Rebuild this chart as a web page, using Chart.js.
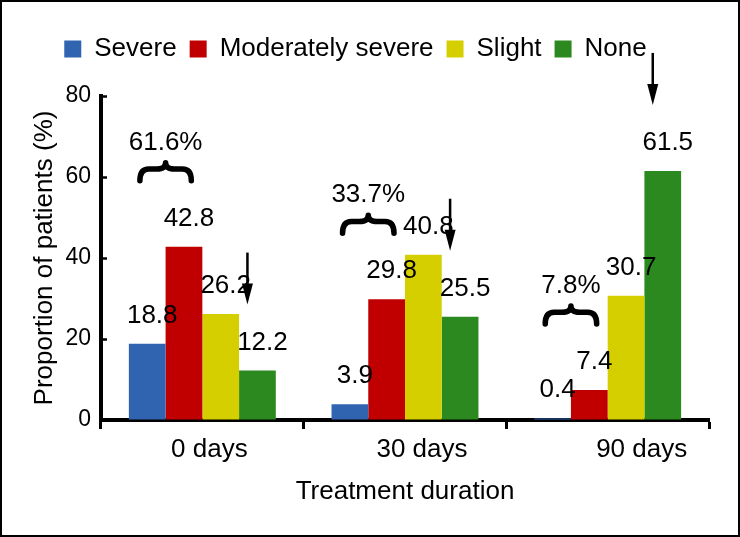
<!DOCTYPE html>
<html>
<head>
<meta charset="utf-8">
<script src="https://cdn.jsdelivr.net/npm/chart.js@4.4.1/dist/chart.umd.min.js"></script>
<style>
  html, body { margin: 0; padding: 0; background: #fff; }
  #frame { width: 740px; height: 537px; box-sizing: border-box; border: 2px solid #000; }
  canvas { display: block; }
</style>
</head>
<body>
<div id="frame"><canvas id="chart" width="736" height="533"></canvas></div>
<script>
// Daten (Anteil der Patienten in %)
const durations = ["0 days", "30 days", "90 days"];
const severe = [18.8, 3.9, 0.4];
const moderatelySevere = [42.8, 29.8, 7.4];
const slight = [26.2, 40.8, 30.7];
const none = [12.2, 25.5, 61.5];
// Summe Severe + Moderately severe, als Klammer-Beschriftung
const combinedLabels = ["61.6%", "33.7%", "7.8%"];

const FONT = '"Liberation Sans", Arial, Helvetica, sans-serif';
Chart.defaults.font.family = FONT;
Chart.defaults.color = "#000";

// die x-Beschriftungen sitzen im Original etwas rechts von der Mitte
const labelShift = [7, 17, 34];

function drawBrace(ctx, l, r, t, b) {
  const c = (l + r) / 2;
  const m = t + (b - t) * 0.35;
  const q = 9;
  ctx.beginPath();
  ctx.moveTo(l, b);
  ctx.quadraticCurveTo(l, m, l + q, m);
  ctx.lineTo(c - q, m);
  ctx.quadraticCurveTo(c, m, c, t);
  ctx.quadraticCurveTo(c, m, c + q, m);
  ctx.lineTo(r - q, m);
  ctx.quadraticCurveTo(r, m, r, b);
  ctx.lineWidth = 5.5;
  ctx.lineCap = "round";
  ctx.lineJoin = "round";
  ctx.stroke();
}

function drawArrow(ctx, x, y0, y1) {
  ctx.lineWidth = 2.5;
  ctx.lineCap = "butt";
  ctx.beginPath();
  ctx.moveTo(x, y0);
  ctx.lineTo(x, y1 - 16);
  ctx.stroke();
  ctx.beginPath();
  ctx.moveTo(x - 5.5, y1 - 21);
  ctx.lineTo(x + 5.5, y1 - 21);
  ctx.lineTo(x, y1);
  ctx.closePath();
  ctx.fill();
}

// Abstand zwischen Legende und Plotbereich
const legendGap = {
  id: "legendGap",
  beforeInit(chart) {
    const fit = chart.legend.fit;
    chart.legend.fit = function () {
      fit.call(this);
      this.height += 24;
    };
  },
};

const annotations = {
  id: "annotations",
  afterDatasetsDraw(chart) {
    const ctx = chart.ctx;
    const xScale = chart.scales.x;
    ctx.save();
    ctx.fillStyle = "#000";
    ctx.strokeStyle = "#000";
    ctx.font = "26px " + FONT;
    ctx.textAlign = "center";
    ctx.textBaseline = "alphabetic";

    // Werte über den Balken
    chart.data.datasets.forEach((ds, i) => {
      chart.getDatasetMeta(i).data.forEach((bar, j) => {
        ctx.fillText(String(ds.data[j]), bar.x + 5, bar.y - 21);
      });
    });

    // Kategorien
    durations.forEach((d, j) => {
      ctx.fillText(d, xScale.getPixelForValue(j) + labelShift[j], xScale.top + 37);
    });

    // Klammern über Severe + Moderately severe
    const m0 = chart.getDatasetMeta(0).data;
    const m1 = chart.getDatasetMeta(1).data;
    m0.forEach((b0, j) => {
      const b1 = m1[j];
      const left = b0.x - b0.width / 2 + 11;
      const right = b1.x + b1.width / 2 - 11;
      const bottom = Math.min(b0.y, b1.y) - 66;
      const top = bottom - 18;
      drawBrace(ctx, left, right, top, bottom);
      ctx.fillText(combinedLabels[j], (left + right) / 2, top - 13);
    });

    // Pfeile auf "None"
    chart.getDatasetMeta(3).data.forEach((bar) => {
      drawArrow(ctx, bar.x - 10, bar.y - 118, bar.y - 66);
    });
    ctx.restore();
  },
};

new Chart(document.getElementById("chart"), {
  type: "bar",
  data: {
    labels: durations,
    datasets: [
      { label: "Severe", data: severe, backgroundColor: "#3063b0" },
      { label: "Moderately severe", data: moderatelySevere, backgroundColor: "#c00000" },
      { label: "Slight", data: slight, backgroundColor: "#d6cf00" },
      { label: "None", data: none, backgroundColor: "#2b891f" },
    ],
  },
  options: {
    responsive: false,
    animation: false,
    layout: { padding: { left: 0, right: 29, top: 21, bottom: 28 } },
    datasets: { bar: { categoryPercentage: 0.725, barPercentage: 1, borderWidth: 0 } },
    plugins: {
      legend: {
        position: "top",
        align: "center",
        labels: { font: { size: 26 }, boxWidth: 17, boxHeight: 17, padding: 13, color: "#000" },
      },
      tooltip: { enabled: false },
    },
    scales: {
      x: {
        grid: { drawOnChartArea: false, drawTicks: true, tickLength: 9, tickWidth: 3, tickColor: "#000", offset: true },
        border: { display: true, color: "#000", width: 4 },
        ticks: { display: false },
        title: {
          display: true,
          text: "Treatment duration",
          font: { size: 26 },
          padding: { top: 0, bottom: 0 },
          color: "#000",
        },
        afterFit(scale) { scale.height = 87; },
      },
      y: {
        min: 0,
        max: 80,
        ticks: { stepSize: 20, font: { size: 23 }, padding: 16, color: "#000" },
        grid: { drawOnChartArea: false, tickLength: -6, tickWidth: 2.5, tickColor: "#000" },
        border: { display: true, color: "#000", width: 4 },
        title: {
          display: true,
          text: "Proportion of patients (%)",
          font: { size: 26 },
          padding: { top: 27, bottom: 0 },
          color: "#000",
        },
        afterFit(scale) { scale.width = 99; },
      },
    },
  },
  plugins: [legendGap, annotations],
});
</script>
</body>
</html>
